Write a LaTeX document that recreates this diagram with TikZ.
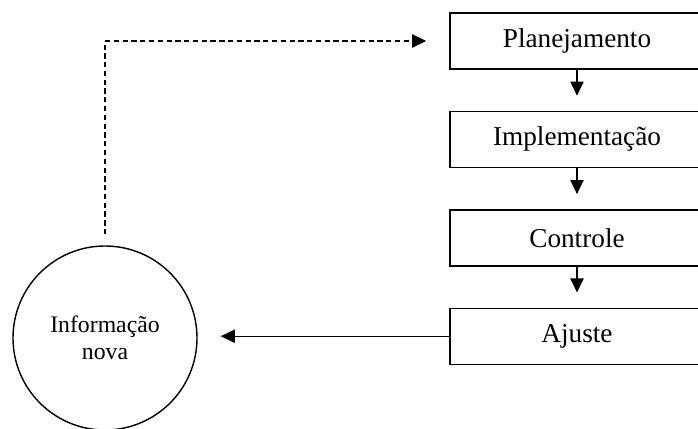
\documentclass[tikz,border=0pt]{standalone}
\usepackage{fontspec}
\setmainfont{Liberation Serif}
\usepackage{tikz}
\usetikzlibrary{arrows.meta,positioning,shapes,calc}

\tikzset{
    etapa/.style={draw, line width=0.8pt, minimum width=5.08cm, minimum height=1.12cm, inner sep=0pt, font=\fontsize{15.5}{18}\selectfont},
    seta/.style={line width=0.8pt, -{Triangle[length=8pt,width=7.5pt]}}
}

\begin{document}
\begin{tikzpicture}
    \useasboundingbox (0,0) rectangle (13.96,-8.58);
    \clip (0,0) rectangle (13.96,-8.58);

    % Etapas do ciclo
    \node[etapa] (plan) at (11.54,-0.82) {Planejamento};
    \node[etapa, below=0.82cm of plan] (impl) {Implementação};
    \node[etapa, below=0.82cm of impl] (ctrl) {Controle};
    \node[etapa, below=0.82cm of ctrl] (ajus) {Ajuste};

    % Informacao nova
    \node[draw, circle, line width=0.8pt, minimum size=3.68cm, align=center, font=\fontsize{13.5}{15.5}\selectfont] (info) at (2.1,-6.76) {Informação\\nova};

    % Setas
    \draw[seta, shorten >=0.3cm] (plan) -- (impl);
    \draw[seta, shorten >=0.3cm] (impl) -- (ctrl);
    \draw[seta, shorten >=0.3cm] (ctrl) -- (ajus);
    \draw[seta, shorten >=0.46cm] (ajus.west) -- (ajus.west -| info.east);

    % Retorno
    \draw[seta, dash pattern=on 3pt off 2pt, shorten <=0.22cm, shorten >=0.46cm] (info.north) |- (plan.west);
\end{tikzpicture}
\end{document}
